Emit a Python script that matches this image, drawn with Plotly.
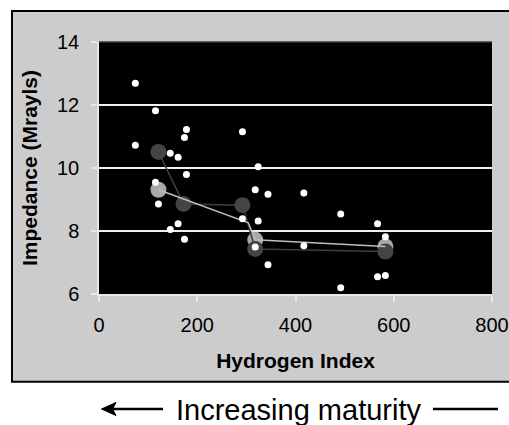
import plotly.graph_objects as go

# ---- data ----
samples_hi = [74, 74, 115, 115, 121, 145, 161, 145, 161, 174, 178, 174, 178,
              292, 292, 324, 318, 344, 324, 318, 344, 417, 417, 492, 492,
              567, 567, 583, 583]
samples_z = [12.69, 10.72, 11.82, 9.55, 8.86, 10.47, 10.34, 8.05, 8.23, 7.74,
             11.22, 10.97, 9.79, 11.15, 8.39, 10.04, 9.31, 9.17, 8.32, 7.49,
             6.93, 9.21, 7.53, 8.54, 6.20, 8.23, 6.55, 7.82, 6.59]

dark_hi = [121, 172, 292, 318, 583]
dark_z = [10.51, 8.86, 8.82, 7.43, 7.35]

light_hi = [121, 318, 583]
light_z = [9.31, 7.72, 7.51]
light_line_hi = [121, 304, 318, 583]
light_line_z = [9.31, 8.26, 7.72, 7.51]

x_ticks = [0, 200, 400, 600, 800]
y_ticks = [6, 8, 10, 12, 14]

FONT = "Arial, Liberation Sans, sans-serif"

# ---- geometry ----
W, H = 509, 425
ML, MR, MT, MB = 99, 17, 42, 131
PW, PH = W - ML - MR, H - MT - MB


def fx(p):
    return (p - ML) / PW


def fy(p):
    return (H - MB - p) / PH


fig = go.Figure()

fig.add_trace(go.Scatter(x=light_hi, y=light_z, mode="markers",
                         marker=dict(size=16, color="#a8a8a8"),
                         showlegend=False, hoverinfo="skip"))
fig.add_trace(go.Scatter(x=dark_hi, y=dark_z, mode="lines+markers",
                         line=dict(color="#3e3e3e", width=1.5),
                         marker=dict(size=16, color="#444444"),
                         showlegend=False))
fig.add_trace(go.Scatter(x=light_line_hi, y=light_line_z, mode="lines",
                         line=dict(color="#bdbdbd", width=1.5),
                         showlegend=False))
fig.add_trace(go.Scatter(x=samples_hi, y=samples_z, mode="markers",
                         marker=dict(size=7, color="white"),
                         showlegend=False))

shapes = [
    dict(type="rect", xref="paper", yref="paper", layer="below",
         x0=fx(12), x1=fx(520), y0=fy(381.7), y1=fy(11),
         fillcolor="#cccccc", line=dict(color="black", width=2)),
    dict(type="rect", xref="x", yref="y", layer="below",
         x0=0, x1=800, y0=6, y1=14, fillcolor="black", line=dict(width=0)),
    dict(type="line", xref="paper", yref="paper", layer="above",
         x0=0, x1=1, y0=1, y1=1, line=dict(color="#3a3a3a", width=1.5)),
    dict(type="line", xref="paper", yref="paper",
         x0=fx(112), x1=fx(163), y0=fy(409), y1=fy(409),
         line=dict(color="black", width=2.5)),
    dict(type="path", xref="paper", yref="paper",
         path=(f"M {fx(101.5)} {fy(409)} L {fx(116)} {fy(402.5)} "
               f"L {fx(112.5)} {fy(409)} L {fx(116)} {fy(415.5)} Z"),
         fillcolor="black", line=dict(color="black", width=1)),
    dict(type="line", xref="paper", yref="paper",
         x0=fx(433), x1=fx(498), y0=fy(409), y1=fy(409),
         line=dict(color="black", width=2.5)),
]

fig.update_layout(
    width=W, height=H, autosize=False,
    margin=dict(l=ML, r=MR, t=MT, b=MB, pad=0, autoexpand=False),
    paper_bgcolor="white", plot_bgcolor="black",
    font=dict(family=FONT, color="black"),
    shapes=shapes,
    annotations=[dict(text="Increasing maturity", xref="paper", yref="paper",
                      x=fx(298), y=fy(410), xanchor="center", yanchor="middle",
                      showarrow=False, font=dict(size=29, color="black", family=FONT))],
)

fig.update_xaxes(range=[0, 800], tickvals=x_ticks, ticktext=[str(v) for v in x_ticks],
                 automargin=False,
                 showgrid=False, zeroline=False,
                 showline=True, linecolor="#e8e8e8", linewidth=1.5,
                 ticks="outside", ticklen=6, tickwidth=1.5, tickcolor="#e8e8e8",
                 ticklabelstandoff=6,
                 tickfont=dict(size=20, color="black", family=FONT),
                 title=dict(text="<b>Hydrogen Index</b>", standoff=19,
                            font=dict(size=21, color="black", family=FONT)))
fig.update_yaxes(range=[6, 14], tickvals=y_ticks, ticktext=[str(v) for v in y_ticks],
                 automargin=False,
                 showgrid=True, gridcolor="#f0f0f0", gridwidth=1.5, zeroline=False,
                 showline=True, linecolor="#e8e8e8", linewidth=1.5,
                 ticks="outside", ticklen=6, tickwidth=1.5, tickcolor="#e8e8e8",
                 ticklabelstandoff=8,
                 tickfont=dict(size=20, color="black", family=FONT),
                 title=dict(text="<b>Impedance (Mrayls)</b>", standoff=14,
                            font=dict(size=21, color="black", family=FONT)))

fig.write_html(
    "out.html",
    config={"displayModeBar": False},
    post_script=("document.documentElement.style.overflow='hidden';"
                 "document.body.style.overflow='hidden';"
                 "document.body.style.margin='0';"),
)
